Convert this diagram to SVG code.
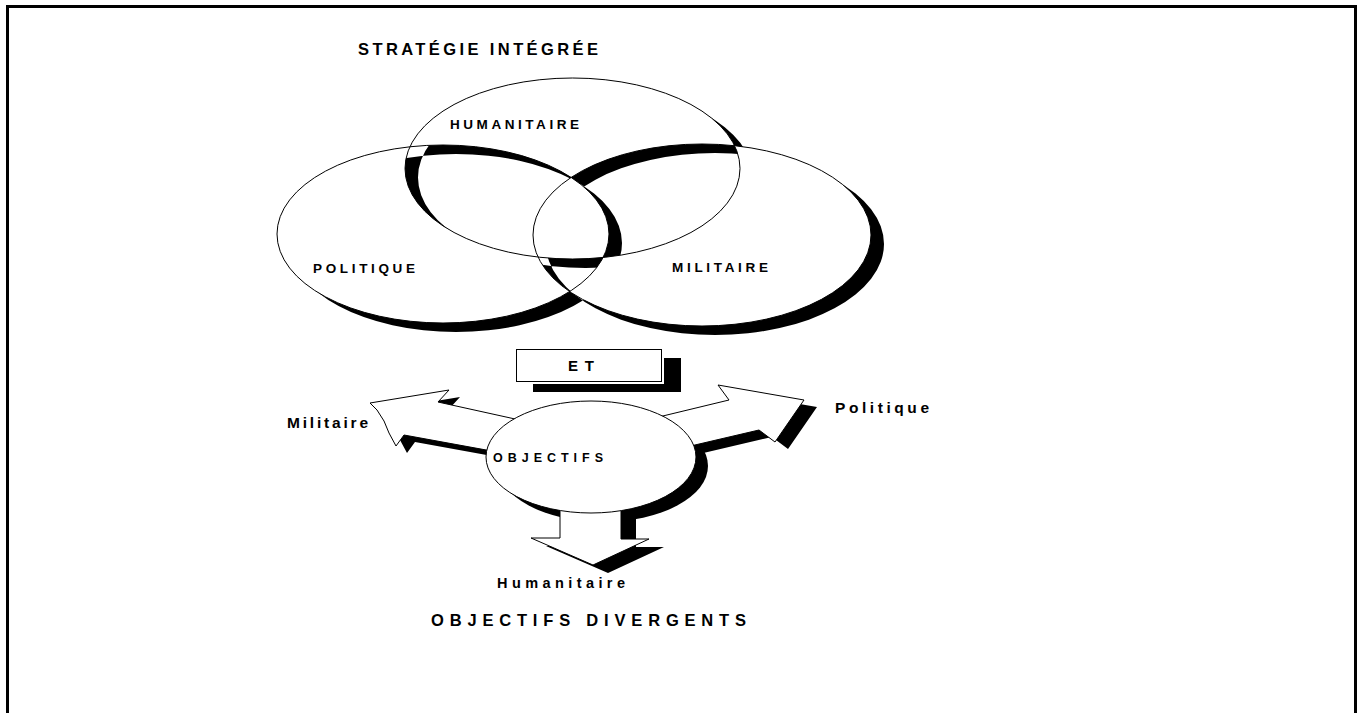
<svg xmlns="http://www.w3.org/2000/svg" width="1357" height="713" viewBox="0 0 1357 713">
  <style>
    .lbl { font-family: "Liberation Sans", Arial, sans-serif; font-weight: bold; fill: #000; }
    .outline { fill: none; stroke: #000; stroke-width: 1; }
    .shape { fill: #fff; stroke: #000; stroke-width: 1; stroke-linejoin: miter; }
    .shadow { fill: #000; }
  </style>

  <!-- page background and frame (open at the bottom) -->
  <rect x="0" y="0" width="1357" height="713" fill="#fff"/>
  <path d="M7.5,713 V6.5 H1355.5 V713" fill="none" stroke="#000" stroke-width="3"/>

  <text class="lbl" x="358" y="54.5" font-size="16.5" textLength="240" lengthAdjust="spacing">STRATÉGIE INTÉGRÉE</text>

  <!-- Venn shading: shadows (offset copies) and fills combined with even-odd rule,
       which gives the interlocking-ring look -->
  <g id="venn-shading">
    <path class="shadow" fill-rule="evenodd" d="
      M418,177.5 a167.5,90.5 0 1,0 335,0 a167.5,90.5 0 1,0 -335,0 Z
      M290,243 a166,89 0 1,0 332,0 a166,89 0 1,0 -332,0 Z
      M546,244 a169,91 0 1,0 338,0 a169,91 0 1,0 -338,0 Z"/>
    <path fill="#fff" fill-rule="evenodd" d="
      M405,168.5 a167.5,90.5 0 1,0 335,0 a167.5,90.5 0 1,0 -335,0 Z
      M277,234 a166,89 0 1,0 332,0 a166,89 0 1,0 -332,0 Z
      M533,235 a169,91 0 1,0 338,0 a169,91 0 1,0 -338,0 Z"/>
  </g>

  <g id="node-humanitaire">
    <ellipse class="outline" cx="572.5" cy="168.5" rx="167.5" ry="90.5"/>
    <text class="lbl" x="450" y="129" font-size="13.5" textLength="129" lengthAdjust="spacing">HUMANITAIRE</text>
  </g>
  <g id="node-politique">
    <ellipse class="outline" cx="443" cy="234" rx="166" ry="89"/>
    <text class="lbl" x="313" y="272.5" font-size="13.5" textLength="102" lengthAdjust="spacing">POLITIQUE</text>
  </g>
  <g id="node-militaire">
    <ellipse class="outline" cx="702" cy="235" rx="169" ry="91"/>
    <text class="lbl" x="672" y="272" font-size="13.5" textLength="96" lengthAdjust="spacing">MILITAIRE</text>
  </g>

  <!-- ET box with drop shadow -->
  <g id="node-et">
    <rect class="shadow" x="533" y="358" width="148" height="34"/>
    <rect x="514" y="347" width="150" height="37" fill="#fff"/>
    <rect class="shape" x="516.5" y="349.5" width="145" height="32"/>
    <text class="lbl" x="568" y="371" font-size="15" textLength="26" lengthAdjust="spacing">ET</text>
  </g>

  <!-- block arrows leaving the OBJECTIFS ellipse -->
  <g id="connectors">
    <g id="shadows">
      <polygon class="shadow" transform="translate(11,7)" points="370,403 449,390 438,402 540,424.5 530,458 404,435 396,446 389,433 384,421 377,410"/>
      <polygon class="shadow" transform="translate(13,7)" points="640,421.5 729,400 718,385 804,400 775,442 759,430 650,455.5"/>
      <polygon class="shadow" transform="translate(15,8)" points="560,495 560,538 531,538 593,565 649,539 621,539 621,495"/>
      <ellipse class="shadow" cx="603" cy="466" rx="105" ry="56"/>
    </g>
    <polygon id="arrow-militaire" class="shape" points="370,403 449,390 438,402 540,424.5 530,458 404,435 396,446 389,433 384,421 377,410"/>
    <polygon id="arrow-politique" class="shape" points="640,421.5 729,400 718,385 804,400 775,442 759,430 650,455.5"/>
    <polygon id="arrow-humanitaire" class="shape" points="560,495 560,538 531,538 593,565 649,539 621,539 621,495"/>
  </g>

  <g id="node-objectifs">
    <ellipse class="shape" cx="591" cy="457" rx="105" ry="56"/>
    <text class="lbl" x="493" y="462" font-size="12.5" textLength="110" lengthAdjust="spacing">OBJECTIFS</text>
  </g>

  <g id="label-militaire">
    <text class="lbl" x="287" y="427.5" font-size="15.5" textLength="81" lengthAdjust="spacing">Militaire</text>
  </g>
  <g id="label-politique">
    <text class="lbl" x="835" y="413" font-size="15.5" textLength="94" lengthAdjust="spacing">Politique</text>
  </g>
  <g id="label-humanitaire">
    <text class="lbl" x="497" y="587.5" font-size="14.5" textLength="128" lengthAdjust="spacing">Humanitaire</text>
  </g>

  <text class="lbl" x="431" y="625.5" font-size="16.5" textLength="315" lengthAdjust="spacing">OBJECTIFS DIVERGENTS</text>
</svg>
